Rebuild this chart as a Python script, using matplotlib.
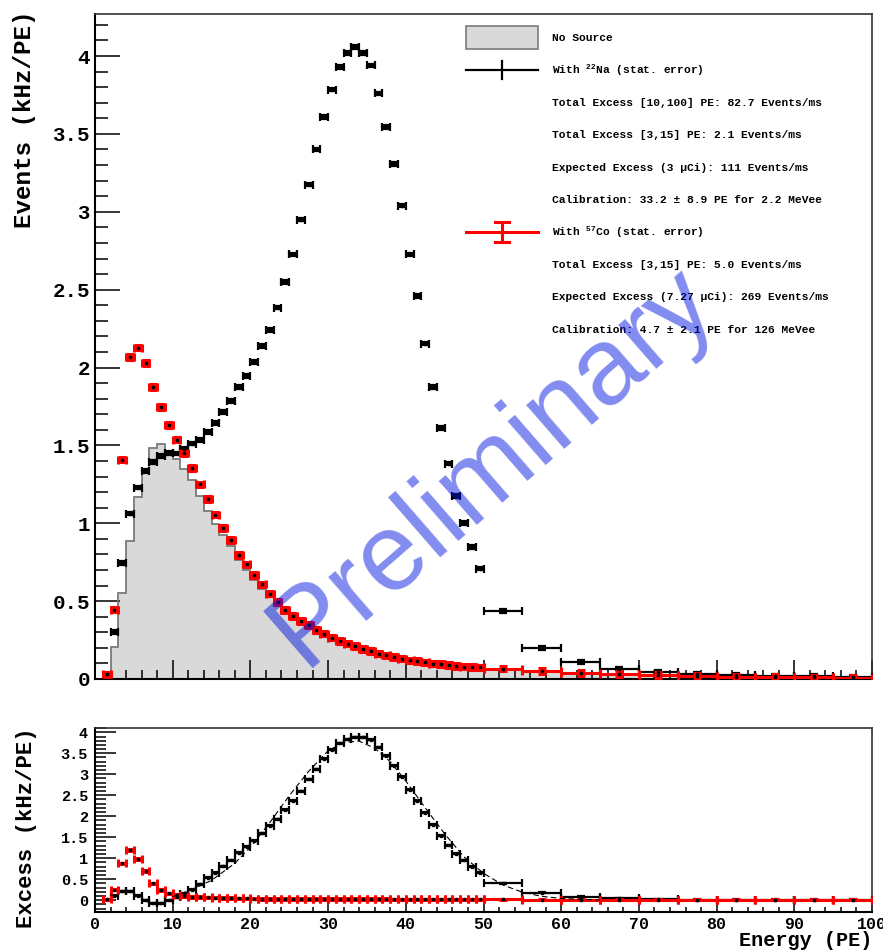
import numpy as np
import matplotlib
matplotlib.use('Agg')
import matplotlib.pyplot as plt
from matplotlib.patches import Rectangle
from matplotlib.lines import Line2D
from matplotlib.ticker import MultipleLocator, FuncFormatter

plt.rcParams['font.family'] = ['Liberation Mono', 'DejaVu Sans Mono']
plt.rcParams['font.weight'] = 'bold'
plt.rcParams['mathtext.fontset'] = 'custom'
plt.rcParams['mathtext.rm'] = 'Liberation Mono:bold'
plt.rcParams['mathtext.it'] = 'Liberation Mono:bold'
plt.rcParams['mathtext.bf'] = 'Liberation Mono:bold'

# bin edges in PE: 1 PE wide up to 50, then 5 PE wide
edges = list(range(1, 51)) + [55, 60, 65, 70, 75, 80, 85, 90, 95, 100]

# rates in kHz/PE, one value per bin
no_source = [0.0, 0.205, 0.555, 0.886, 1.169, 1.336, 1.486, 1.512, 1.458, 1.415,
             1.351, 1.276, 1.173, 1.079, 0.994, 0.923, 0.852, 0.763, 0.699, 0.634,
             0.581, 0.527, 0.47, 0.42, 0.385, 0.355, 0.325, 0.295, 0.275, 0.25,
             0.23, 0.21, 0.195, 0.18, 0.165, 0.152, 0.14, 0.13, 0.12, 0.11,
             0.104, 0.097, 0.09, 0.085, 0.079, 0.075, 0.071, 0.068, 0.065,
             0.058, 0.046, 0.036, 0.028, 0.022, 0.018, 0.014, 0.011, 0.009, 0.007]

with_na22 = [np.nan, 0.30, 0.745, 1.062, 1.229, 1.336, 1.394, 1.43, 1.452, 1.448,
             1.48, 1.512, 1.533, 1.587, 1.644, 1.715, 1.786, 1.876, 1.944, 2.036,
             2.136, 2.24, 2.385, 2.548, 2.726, 2.95, 3.175, 3.40, 3.61, 3.785,
             3.93, 4.02, 4.06, 4.02, 3.94, 3.76, 3.545, 3.306, 3.04, 2.726,
             2.458, 2.154, 1.875, 1.612, 1.383, 1.175, 1.002, 0.846, 0.709,
             0.435, 0.199, 0.109, 0.067, 0.045, 0.03, 0.025, 0.02, 0.017, 0.015]

with_co57 = [0.03, 0.446, 1.409, 2.068, 2.128, 2.03, 1.875, 1.747, 1.63, 1.537,
             1.449, 1.355, 1.25, 1.154, 1.056, 0.968, 0.891, 0.795, 0.736, 0.666,
             0.608, 0.548, 0.495, 0.442, 0.404, 0.374, 0.345, 0.313, 0.292, 0.266,
             0.245, 0.227, 0.21, 0.193, 0.178, 0.163, 0.152, 0.141, 0.131, 0.12,
             0.114, 0.107, 0.099, 0.095, 0.088, 0.084, 0.08, 0.078, 0.074,
             0.067, 0.052, 0.04, 0.031, 0.025, 0.02, 0.015, 0.012, 0.01, 0.008]

excess_na22 = [np.nan, 0.10, 0.21, 0.21, 0.10, 0.0, -0.08, -0.08, 0.0, 0.07,
               0.15, 0.25, 0.38, 0.53, 0.65, 0.81, 0.95, 1.13, 1.27, 1.42,
               1.59, 1.77, 1.93, 2.16, 2.37, 2.60, 2.88, 3.12, 3.37, 3.58,
               3.74, 3.84, 3.88, 3.88, 3.82, 3.64, 3.44, 3.20, 2.94, 2.63,
               2.37, 2.08, 1.80, 1.54, 1.31, 1.11, 0.95, 0.80, 0.65,
               0.40, 0.175, 0.08, 0.04, 0.025, 0.015, 0.01, 0.01, 0.008, 0.006]

excess_co57 = [0.02, 0.25, 0.875, 1.19, 0.98, 0.69, 0.40, 0.24, 0.16, 0.12,
               0.10, 0.08, 0.07, 0.065, 0.06, 0.05, 0.045, 0.04, 0.04, 0.035,
               0.03, 0.03, 0.03, 0.03, 0.03, 0.03, 0.03, 0.028, 0.028, 0.027,
               0.026, 0.025, 0.024, 0.023, 0.022, 0.022, 0.021, 0.02, 0.02, 0.02,
               0.02, 0.02, 0.02, 0.02, 0.02, 0.02, 0.02, 0.02, 0.02,
               0.018, 0.015, 0.013, 0.012, 0.011, 0.01, 0.01, 0.01, 0.01, 0.01]

stat_err_na22 = 0.012
stat_err_co57 = 0.018

# dashed fit curve
fit_x = [10, 12, 15, 18, 20, 22.5, 25, 27.5, 30, 32, 34, 36, 38, 40, 42.5, 45, 47.5, 50, 52.5, 55, 57.5, 60, 62.5, 65]
fit_y = [0.08, 0.22, 0.47, 0.88, 1.26, 1.85, 2.49, 3.07, 3.56, 3.76, 3.79, 3.62, 3.30, 2.84, 2.20, 1.58, 1.03, 0.64, 0.36, 0.19, 0.09, 0.041, 0.017, 0.006]

legend_labels = ['No Source',
                 r'With $^{22}$Na (stat. error)',
                 'Total Excess [10,100] PE: 82.7 Events/ms',
                 'Total Excess [3,15] PE: 2.1 Events/ms',
                 'Expected Excess (3 µCi): 111 Events/ms',
                 'Calibration: 33.2 ± 8.9 PE for 2.2 MeVee',
                 r'With $^{57}$Co (stat. error)',
                 'Total Excess [3,15] PE: 5.0 Events/ms',
                 'Expected Excess (7.27 µCi): 269 Events/ms',
                 'Calibration: 4.7 ± 2.1 PE for 126 MeVee']

W, H = 883, 951
edges = np.array(edges, dtype=float)
centers = 0.5 * (edges[1:] + edges[:-1])
halfw = 0.5 * (edges[1:] - edges[:-1])

fig = plt.figure(figsize=(W / 100, H / 100), dpi=100)
ax1 = fig.add_axes([95 / W, 1 - 679 / H, 777 / W, 665 / H])
ax2 = fig.add_axes([95 / W, 1 - 912.3 / H, 777 / W, 184.6 / H])


def fmt(v, pos):
    return '%g' % v


def points(ax, vals, err, color, lw, cap):
    ax.errorbar(centers, vals, xerr=halfw, yerr=err, fmt='s', ms=1.6,
                mfc='black', mec='black', ecolor=color, elinewidth=lw,
                capsize=cap, capthick=lw, zorder=3)


# top panel
ax1.stairs(no_source, edges, fill=True, color='#d9d9d9', zorder=1)
ax1.stairs(no_source, edges, color='#7a7a7a', lw=1.3, zorder=2)
points(ax1, with_na22, stat_err_na22, 'black', 1.6, 2.6)
points(ax1, with_co57, stat_err_co57, '#ff0000', 2.2, 2.6)
ax1.set_xlim(0, 100)
ax1.set_ylim(0, 4.27)

# bottom panel
points(ax2, excess_na22, stat_err_na22, 'black', 1.6, 2.6)
ax2.plot(fit_x, fit_y, color='black', lw=0.8, ls=(0, (5, 3)), zorder=4)
points(ax2, excess_co57, stat_err_co57, '#ff0000', 2.2, 2.6)
ax2.set_xlim(0, 100)
ax2.set_ylim(-0.29, 4.11)

for ax in (ax1, ax2):
    ax.xaxis.set_major_locator(MultipleLocator(10))
    ax.xaxis.set_minor_locator(MultipleLocator(2))
    ax.yaxis.set_major_locator(MultipleLocator(0.5))
    ax.yaxis.set_minor_locator(MultipleLocator(0.1))
    ax.xaxis.set_major_formatter(FuncFormatter(fmt))
    ax.yaxis.set_major_formatter(FuncFormatter(fmt))
    ax.tick_params(which='both', direction='in', top=False, right=False, width=1.1)
    for side in ('left', 'bottom'):
        ax.spines[side].set_linewidth(1.5)
    for side in ('top', 'right'):
        ax.spines[side].set_linewidth(1.2)
        ax.spines[side].set_color('#333333')

ax1.tick_params(axis='x', which='major', length=13.5, labelbottom=False)
ax1.tick_params(axis='x', which='minor', length=6.3)
ax1.tick_params(axis='y', which='major', length=18, labelsize=15, pad=3.6)
ax1.tick_params(axis='y', which='minor', length=9)

ax2.tick_params(axis='x', which='major', length=6.5, labelsize=12, pad=3.5)
ax2.tick_params(axis='x', which='minor', length=3.6)
ax2.tick_params(axis='y', which='major', length=15, labelsize=11, pad=5)
ax2.tick_params(axis='y', which='minor', length=8)

fig.text(25 / W, 1 - 10 / H, 'Events (kHz/PE)', rotation=90, ha='center', va='top',
         fontsize=17.5, fontweight='bold')
fig.text(27 / W, 1 - 727 / H, 'Excess (kHz/PE)', rotation=90, ha='center', va='top',
         fontsize=16, fontweight='bold')
fig.text(872 / W, 1 - 946 / H, 'Energy (PE)', ha='right', va='baseline',
         fontsize=14.5, fontweight='bold')

# legend drawn in figure pixels
def fx(px):
    return px / W


def fy(py):
    return 1 - py / H


row_y = [38 + i * 32.4 for i in range(len(legend_labels))]
for lab, yy in zip(legend_labels, row_y):
    fig.text(fx(552), fy(yy), lab, ha='left', va='center', fontsize=8.1, fontweight='bold')

fig.add_artist(Rectangle((fx(466), fy(49)), fx(538) - fx(466), fy(26) - fy(49),
                         transform=fig.transFigure, facecolor='#d9d9d9',
                         edgecolor='#7a7a7a', lw=1.2))
yb = row_y[1]
fig.add_artist(Line2D([fx(466), fx(538)], [fy(yb), fy(yb)], color='black', lw=1.6,
                      transform=fig.transFigure))
fig.add_artist(Line2D([fx(502), fx(502)], [fy(yb - 9), fy(yb + 9)], color='black', lw=1.6,
                      transform=fig.transFigure))
yr = row_y[6]
fig.add_artist(Line2D([fx(466), fx(538)], [fy(yr), fy(yr)], color='#ff0000', lw=2.2,
                      transform=fig.transFigure))
fig.add_artist(Line2D([fx(502), fx(502)], [fy(yr - 10), fy(yr + 10)], color='#ff0000', lw=2.2,
                      transform=fig.transFigure))
for dy in (-10, 10):
    fig.add_artist(Line2D([fx(495), fx(509)], [fy(yr + dy), fy(yr + dy)], color='#ff0000',
                          lw=2.2, transform=fig.transFigure))

# watermark
fig.text(fx(493), fy(466), 'Preliminary', rotation=41, rotation_mode='anchor',
         ha='center', va='center', fontsize=79, family='Liberation Sans',
         fontweight='normal', color=(0.0, 0.08, 0.88), alpha=0.49, zorder=10)

fig.savefig('out.png', dpi=100)
